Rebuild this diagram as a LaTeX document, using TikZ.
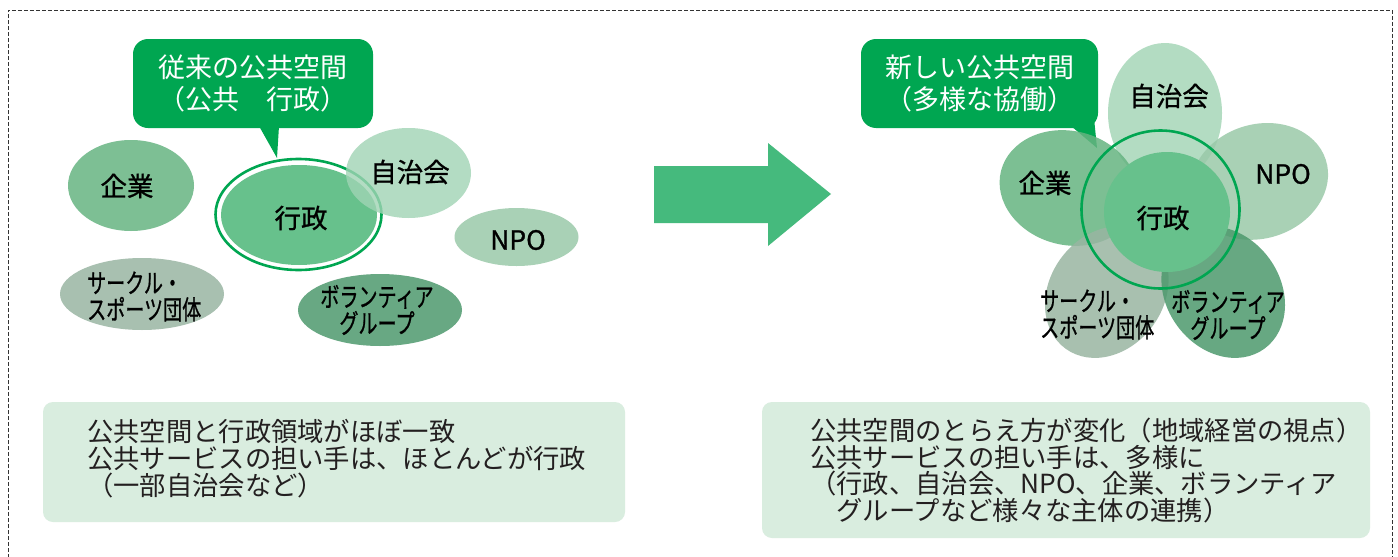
\documentclass[tikz,border=0pt]{standalone}
\usepackage{fontspec}
\usepackage{graphicx}
\setmainfont{Noto Sans CJK JP}
\newfontfamily\lblfont[FakeBold=0.9]{Noto Sans CJK JP}
\usetikzlibrary{shapes.geometric}
\definecolor{callg}{HTML}{00A651}
\definecolor{arrowg}{HTML}{45BA7D}
\definecolor{kigyo}{HTML}{7DBF94}
\definecolor{gyosei}{HTML}{67C18C}
\definecolor{jichi}{HTML}{A0D4B4}
\definecolor{npo}{HTML}{A9D1B6}
\definecolor{cclub}{HTML}{A8C0B0}
\definecolor{volun}{HTML}{68A883}
\definecolor{boxg}{HTML}{D9EDDF}
\definecolor{txt}{HTML}{231F20}
\definecolor{pjichi}{HTML}{A6D7B8}
\definecolor{pnpo}{HTML}{9AC9A9}
\definecolor{pkigyo}{HTML}{66B481}
\definecolor{pcircle}{HTML}{99B5A2}
\definecolor{pvolun}{HTML}{4D996D}
\tikzset{
  blob/.style={ellipse, inner sep=0pt, draw=none},
  petal/.style={ellipse, inner sep=0pt, draw=none, fill opacity=0.85, minimum width=140pt, minimum height=114pt},
  lbl/.style={inner sep=0pt, font=\lblfont\fontsize{26.5}{27}\selectfont, text=black},
  klbl/.style={inner sep=0pt, font=\lblfont\fontsize{26.5}{26.5}\selectfont, text=black},
  callbox/.style={rectangle, rounded corners=15pt, fill=callg, inner sep=0pt, text=white, align=center, font=\fontsize{27}{32}\selectfont},
  infobox/.style={rectangle, rounded corners=10pt, fill=boxg, inner sep=0pt},
  infotext/.style={inner sep=0pt, align=left, text=txt, font=\fontsize{26.3}{26.8}\selectfont},
  ring/.style={draw=callg, line width=2.6pt}
}
\newcommand{\nar}[1]{\scalebox{0.72}[1]{#1}}
\begin{document}
\begin{tikzpicture}[x=1pt,y=-1pt]
\useasboundingbox (0,0) rectangle (1398,557);
\fill[white] (0,0) rectangle (1398,557);
% dashed frame
\draw[dash pattern=on 4pt off 2pt, line width=1pt, draw=black!80] (8,570) -- (8,10) -- (1392,10) -- (1392,570);

% ===== left side =====
\node[callbox, minimum width=240pt, minimum height=89pt] (c1) at (253,83.5) {従来の公共空間\\（公共　行政）};
\fill[callg] (259,126) -- (277,158) -- (279,126) -- cycle;

\node[blob, fill=kigyo, minimum width=126pt, minimum height=91pt] (k1) at (131,185.5) {};
\node[blob, fill=cclub, minimum width=164pt, minimum height=72pt] (s1) at (142,294) {};
\node[blob, fill=volun, minimum width=164pt, minimum height=72pt] (v1) at (380,310) {};
\node[blob, fill=npo, minimum width=124pt, minimum height=58pt] (n1) at (516.5,237) {};
\node[blob, ring, fill=white, minimum width=166pt, minimum height=111pt] (g1r) at (298.5,214.5) {};
\node[blob, fill=gyosei, minimum width=156pt, minimum height=100pt] (g1) at (299,215) {};
\node[blob, fill=jichi, fill opacity=0.8, minimum width=125pt, minimum height=90pt] (j1) at (408.5,173) {};

\node[lbl] (k1t) at (127,186) {企業};
\node[lbl] (g1t) at (301,218) {行政};
\node[lbl] (j1t) at (410,172) {自治会};
\node[lbl] (n1t) at (518,240) {NPO};
\node[klbl, align=left, anchor=west] (s1t) at (87,296.5) {\nar{サークル・}\\\nar{スポーツ団体}};
\node[klbl, align=center] (v1t) at (377,310) {\nar{ボランティア}\\\nar{グループ}};

% ===== arrow =====
\fill[arrowg] (654,166) -- (768,166) -- (768,143) -- (831,194) -- (768,246) -- (768,223) -- (654,223) -- cycle;

% ===== right side =====
\node[callbox, minimum width=237pt, minimum height=89pt] (c2) at (979.5,83.5) {新しい公共空間\\（多様な協働）};
\fill[callg] (1071,126) -- (1097,148) -- (1094,118) -- cycle;

\node[petal, fill=pjichi, rotate=90] (pj) at (1165,113) {};
\node[petal, fill=pkigyo, rotate=166] (pk) at (1068.9,188) {};
\node[petal, fill=pnpo, rotate=18] (pn) at (1259.2,181.4) {};
\node[petal, fill=pcircle, rotate=-126] (ps) at (1106.8,292.1) {};
\node[petal, fill=pvolun, rotate=-54] (pv) at (1223.2,292.1) {};
\node[blob, fill=gyosei, minimum width=126pt, minimum height=120pt] (pg) at (1167,212) {};
\node[circle, ring, inner sep=0pt, minimum size=158pt] (pr) at (1160.5,209.5) {};

\node[lbl] (pjt) at (1169,96) {自治会};
\node[lbl] (pnt) at (1283,174) {NPO};
\node[lbl] (pkt) at (1045,183) {企業};
\node[lbl] (pgt) at (1163,218) {行政};
\node[klbl, align=left, anchor=west] (pst) at (1040,314.5) {\nar{サークル・}\\\nar{スポーツ団体}};
\node[klbl, align=center] (pvt) at (1228,315) {\nar{ボランティア}\\\nar{グループ}};

% ===== bottom boxes =====
\node[infobox, minimum width=582pt, minimum height=120pt] (b1) at (334,462) {};
\node[infotext, anchor=west] (b1t) at (87,458.5) {公共空間と行政領域がほぼ一致\\公共サービスの担い手は、ほとんどが行政\\（一部自治会など）};

\node[infobox, minimum width=608pt, minimum height=136pt] (b2) at (1066,470) {};
\node[infotext, anchor=west] (b2t) at (810,470.5) {公共空間のとらえ方が変化（地域経営の視点）\\公共サービスの担い手は、多様に\\（行政、自治会、NPO、企業、ボランティア\\　グループなど様々な主体の連携）};
\end{tikzpicture}
\end{document}
